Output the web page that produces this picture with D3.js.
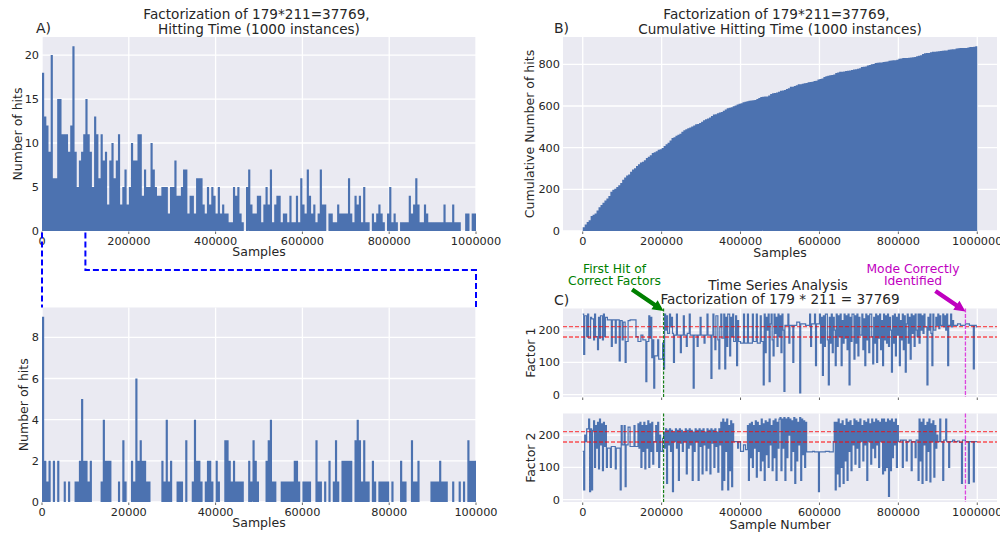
<!DOCTYPE html>
<html><head><meta charset="utf-8">
<script src="https://cdn.jsdelivr.net/npm/d3@7"></script>
<style>
body{margin:0;background:#fff}
svg{display:block}
text{font-family:"DejaVu Sans",sans-serif;fill:#262626}
</style>
</head><body>
<svg id="c" width="1000" height="536"></svg>
<script>
// ---------------- DATA ----------------
const hitBinWidth = 5000;           // samples per bin, panel A (top) and B
const hitCounts = [
 18,13,12,9,20,6,6,15,15,11,
 11,11,9,12,21,9,5,8,9,11,
 15,11,9,5,13,11,6,11,8,9,
 3,8,10,6,8,11,3,5,7,3,
 5,10,8,8,11,11,4,7,5,5,
 10,7,5,4,4,5,5,5,2,5,
 5,8,4,4,5,7,7,2,4,4,
 2,6,6,6,3,2,5,3,5,4,
 2,5,2,3,2,2,1,1,5,4,
 5,2,1,0,5,7,3,2,2,4,
 4,1,3,5,3,7,1,3,4,4,
 1,2,2,1,4,1,1,4,1,6,
 3,2,7,4,2,3,1,2,7,3,
 3,0,2,2,1,1,3,2,2,2,
 2,6,2,1,4,3,4,1,5,1,
 1,0,2,1,2,3,2,1,0,2,
 5,1,2,1,0,1,1,1,1,4,
 2,3,6,3,1,1,3,2,1,1,
 1,1,1,1,1,3,1,1,1,3,
 1,1,1,0,0,2,2,0,2,2
];
const zoomBinWidth = 500;           // samples per bin, panel A (bottom)
const zoomCounts = [
 9,2,1,2,0,2,0,2,0,0,
 1,0,1,0,0,1,1,2,5,2,
 2,1,2,0,0,0,0,1,4,2,
 2,2,0,0,0,1,0,3,1,0,
 0,2,1,6,2,3,2,2,1,1,
 0,0,0,0,0,2,1,4,1,2,
 0,0,1,1,1,0,3,0,0,1,
 4,2,2,1,0,1,2,2,1,0,
 2,1,0,0,3,3,2,1,2,1,
 1,1,1,0,0,2,1,3,2,1,
 0,0,0,2,3,4,1,1,0,0,
 1,1,1,1,1,1,2,2,1,0,
 1,1,1,1,0,0,3,1,1,0,
 1,0,2,0,1,3,1,0,2,2,
 2,2,2,0,3,4,3,1,3,1,
 1,0,2,1,0,1,1,1,1,1,
 0,1,0,0,0,2,1,1,0,0,
 3,1,1,2,0,0,0,0,0,1,
 1,1,1,2,1,1,1,0,0,1,
 0,0,1,0,1,0,3,2,2,2
];
// Time series as runs of the sampler's state: [value, duration in units of runUnit samples]
const runUnit = 2500;
const factor1Runs = [
 [250,1],[125,1],[245,2],[180,1],[250,1],[175,2],[240,1],[235,2],[170,1],[250,1],[180,2],[140,1],[240,1],[175,1],[245,2],[170,1],[250,1],[180,1],[240,2],
 [232,4],[150,1],[232,3],[160,1],[232,3],[105,1],
 [230,2],[170,1],[225,2],[100,1],[165,2],[230,2],[232,6],
 [180,2],[165,3],[185,2],[170,3],[40,1],
 [165,2],[245,1],[175,1],[240,1],[115,1],[170,1],[20,1],
 [120,3],[170,1],[110,4],[160,1],[80,1],
 [250,1],[200,1],[245,1],[190,2],[250,1],[210,1],[240,1],[190,1],
 [100,1],[185,2],[250,1],[185,3],[130,1],[185,2],[245,1],[185,2],[150,1],[190,2],[250,1],[185,3],[20,1],
 [185,3],[150,1],[185,2],[240,1],[185,3],[160,1],[185,2],[250,1],[185,3],[50,1],
 [185,1],[250,1],[180,1],[140,1],[245,2],[170,1],[80,1],[210,1],[250,1],[175,2],[250,1],[80,1],[240,1],[150,1],[250,2],[120,1],[240,1],[180,1],[250,1],[165,2],[245,1],[90,1],[230,1],[165,2],
 [160,3],[250,1],[160,3],[250,1],[160,4],[250,1],[165,3],[250,1],[160,3],[245,1],[165,2],[30,1],
 [250,1],[130,1],[240,1],[200,1],[250,1],[40,1],[220,1],[250,1],[170,1],[120,1],[250,1],[190,1],[240,1],[150,1],[250,1],[180,1],[245,1],[130,1],[250,1],[200,1],[10,1],
 [215,3],[250,1],[160,1],[215,3],[100,1],[215,3],[225,3],[5,1],
 [220,5],[215,4],[250,1],[150,1],[220,3],[250,1],[90,1],[220,3],
 [250,1],[160,1],[240,1],[60,1],[245,1],[150,1],[250,2],[170,1],[30,1],[240,1],[160,1],[250,1],[130,1],[240,1],[200,1],[90,1],[250,1],[150,1],[245,1],[180,1],[250,1],[90,1],[230,1],[160,1],[250,1],[175,1],[245,1],[140,1],[250,1],[30,1],[240,1],[165,1],[250,2],[110,1],
 [245,1],[160,1],[250,1],[120,1],[240,1],[185,2],[250,1],[140,1],[235,1],[90,1],[250,1],[170,1],[245,1],[130,1],[250,2],[180,1],[95,1],[240,1],[160,1],[250,1],[100,1],[245,1],[175,1],[250,1],[140,1],[230,1],[90,1],[250,1],[170,1],[245,1],[160,1],
 [250,1],[150,1],[240,1],[200,1],[70,1],[245,1],[160,1],[250,1],[120,1],[240,1],[185,1],[250,1],[90,1],[230,1],[170,1],[250,1],[140,1],[245,1],[70,1],[220,1],[250,1],[160,1],[240,1],[110,1],[250,1],[190,1],[245,1],[150,1],[250,1],[200,1],[180,1],[250,1],[160,1],
 [250,1],[200,1],[245,1],[190,1],[250,1],[210,2],[30,1],[240,1],[200,1],[250,1],[190,1],[90,1],[250,1],[200,2],[240,1],[215,1],[250,1],[205,1],[245,1],
 [215,2],[250,1],[210,1],[245,1],[200,1],[250,1],[90,1],[215,2],[250,1],[210,1],[230,1],
 [215,4],[220,3],[215,5],[220,4],[215,4],[80,1],[215,2],[210,1]
];
const factor2Runs = [
 [150,1],[30,1],[200,1],[180,1],
 [220,2],[250,1],[25,1],[220,1],[30,1],[215,1],
 [245,1],[100,1],[230,1],[160,1],[240,1],[95,1],[250,1],[170,1],[235,1],[90,1],[240,1],[165,1],[230,1],[100,1],
 [160,3],[100,1],[165,4],[95,1],[160,4],[30,1],
 [230,1],[170,2],[230,1],[40,1],[170,2],[225,2],
 [165,4],[230,1],[165,3],[235,1],[160,1],
 [240,1],[100,1],[230,1],[150,1],[240,1],[95,1],[230,1],[160,1],[245,1],[100,1],[235,1],[150,1],[240,1],[110,1],[180,2],[230,1],[150,1],[240,1],[100,1],[200,1],[150,1],
 [150,1],[190,1],
 [210,1],[160,1],[220,1],[50,1],[215,1],[170,1],[220,1],[150,1],[215,1],[25,1],[210,1],[180,1],[220,1],[160,1],[215,1],[60,1],[220,1],[175,1],[215,1],[150,1],[210,1],[180,1],[220,1],[80,1],[215,1],[160,1],[220,1],[170,1],[215,1],[60,1],[210,1],[150,1],[220,1],[180,1],[215,1],[60,1],[220,1],[165,1],
 [215,1],[80,1],[220,1],[170,1],[210,1],[90,1],[220,1],[160,1],[215,1],[80,1],[220,1],[175,1],[215,1],[100,1],[220,1],[165,1],[210,1],[85,1],[220,1],[170,1],
 [240,1],[30,1],[250,1],[60,1],[240,1],[150,1],[250,1],[30,1],[230,1],[90,1],[245,1],[40,1],[235,1],
 [180,4],[160,1],[180,2],
 [150,3],[170,2],[155,2],
 [230,1],[60,1],[235,1],[130,1],[240,1],[100,1],[230,1],[160,1],[245,1],[70,1],[240,1],[150,1],[230,1],[90,1],[250,1],[120,1],[235,1],[60,1],[245,1],[140,1],[240,1],[100,1],[250,1],[170,1],[230,1],[90,1],[245,1],[130,1],[250,1],[60,1],[240,1],[160,1],[250,1],
 [255,1],[90,1],[250,1],[160,1],[255,1],[60,1],[250,1],[130,1],[255,1],[200,1],[250,1],[90,1],[245,1],[150,1],[255,1],[50,1],[250,1],[120,1],[240,1],[170,1],[255,1],[60,1],[250,1],[140,1],[245,1],[100,1],[240,1],
 [148,6],[150,2],[148,4],[25,1],[148,6],[150,4],[148,4],
 [180,1],[240,1],[30,1],[240,1],[80,1],[250,1],[40,1],[235,1],[100,1],[245,1],[50,1],[230,1],[120,1],[250,1],[60,1],[240,1],[150,1],[245,1],[90,1],[230,1],[170,1],
 [250,1],[110,1],[245,1],[160,1],[240,1],[100,1],[250,1],[180,1],[230,1],[120,1],[245,1],[170,1],[240,1],[60,1],[250,1],[180,1],[235,1],[110,1],[250,1],[160,1],[240,1],[130,1],[250,1],[170,1],[245,1],[100,1],[240,1],
 [180,1],[250,1],[80,1],[250,1],[90,1],[240,1],[100,1],[250,1],[10,1],[245,1],[90,1],[250,1],[130,1],[240,1],[170,1],[250,1],[100,1],[230,1],
 [180,2],[185,2],[100,1],[185,3],[120,1],[180,2],[185,2],[90,1],[180,3],[130,1],[185,2],
 [60,1],[250,1],[120,1],[240,1],[50,1],[250,1],[170,1],[230,1],[60,1],[240,1],[150,1],[250,1],[55,1],[235,1],[180,1],[245,1],[70,1],[230,1],[160,1],[200,1],
 [180,2],[250,1],[180,2],[60,1],[185,2],[250,1],[180,2],[100,1],
 [180,3],[185,2],[180,3],[182,2],[178,2],[50,1],[185,3],[180,3],[50,1],[180,4],[55,1],[180,3]
];
const trueFactors = [179, 211];
const firstHitSample = 205000;
const modeSample = 970000;
const hitTicksX = [0, 200000, 400000, 600000, 800000, 1000000];
const hitTicksY = [0, 5, 10, 15, 20];
const zoomTicksX = [0, 20000, 40000, 60000, 80000, 100000];
const zoomTicksY = [0, 2, 4, 6, 8];
const cumTicksY = [0, 200, 400, 600, 800];
const factorTicksY = [0, 100, 200];

// ---------------- DRAWING ----------------
const svg = d3.select("#c");
const BAR = "#4C72B0", BG = "#EAEAF2";
const fmt = d3.format("d");
const TICK_FS = "11.3px", LAB_FS = "12.5px", TITLE_FS = "13.6px";

function frame(b, xs, ys, xTicks, yTicks, showXLabels, labelDy) {
  const g = svg.append("g");
  g.append("rect").attr("x", b.x0).attr("y", b.y0)
    .attr("width", b.x1 - b.x0).attr("height", b.y1 - b.y0).attr("fill", BG);
  g.selectAll(".gy").data(yTicks).join("line")
    .attr("x1", b.x0).attr("x2", b.x1)
    .attr("y1", d => ys(d)).attr("y2", d => ys(d))
    .attr("stroke", "#fff").attr("stroke-width", 1.3);
  g.selectAll(".gx").data(xTicks).join("line")
    .attr("y1", b.y0).attr("y2", b.y1)
    .attr("x1", d => xs(d)).attr("x2", d => xs(d))
    .attr("stroke", "#fff").attr("stroke-width", 1.3);
  g.selectAll(".tm").data(xTicks).join("line")
    .attr("x1", d => xs(d)).attr("x2", d => xs(d))
    .attr("y1", b.y1 + 0.5).attr("y2", b.y1 + 3)
    .attr("stroke", "#666").attr("stroke-width", 1);
  g.selectAll(".yl").data(yTicks).join("text")
    .attr("x", b.x0 - 3).attr("y", d => ys(d)).attr("dy", "0.36em")
    .attr("text-anchor", "end").style("font-size", TICK_FS).text(d => fmt(d));
  if (showXLabels) {
    g.selectAll(".xl").data(xTicks).join("text")
      .attr("x", d => xs(d)).attr("y", b.y1 + (labelDy || 14))
      .attr("text-anchor", "middle").style("font-size", TICK_FS).text(d => fmt(d));
  }
  return g;
}
function xLabel(b, txt, y) {
  svg.append("text").attr("x", (b.x0 + b.x1) / 2).attr("y", y)
    .attr("text-anchor", "middle").style("font-size", LAB_FS).text(txt);
}
function yLabel(b, txt, x) {
  const cy = (b.y0 + b.y1) / 2;
  svg.append("text").attr("transform", `translate(${x},${cy}) rotate(-90)`)
    .attr("text-anchor", "middle").style("font-size", LAB_FS).text(txt);
}
function title(cx, lines, y1, y2, dx1) {
  svg.append("text").attr("x", cx + (dx1 || 0)).attr("y", y1).attr("text-anchor", "middle")
    .style("font-size", TITLE_FS).text(lines[0]);
  svg.append("text").attr("x", cx).attr("y", y2).attr("text-anchor", "middle")
    .style("font-size", TITLE_FS).text(lines[1]);
}
function letter(x, y, t) {
  svg.append("text").attr("x", x).attr("y", y).style("font-size", "14px").text(t);
}
// all bars of a histogram as one path (no anti-aliasing seams between neighbours)
function bars(g, data, width, xs, ys) {
  const p = d3.path();
  data.forEach((d, i) => {
    if (d <= 0) return;
    const x0 = xs(i * width), x1 = xs((i + 1) * width);
    p.rect(x0, ys(d), x1 - x0, ys(0) - ys(d));
  });
  g.append("path").attr("d", p.toString()).attr("fill", BAR);
}

// ---- Panel A top
const bA = {x0: 42, x1: 476, y0: 37, y1: 231};
const xA = d3.scaleLinear().domain([0, hitCounts.length * hitBinWidth]).range([bA.x0, bA.x1]);
const yA = d3.scaleLinear().domain([0, d3.max(hitCounts) * 1.05]).range([bA.y1, bA.y0]);
const gA = frame(bA, xA, yA, hitTicksX, hitTicksY, true);
bars(gA, hitCounts, hitBinWidth, xA, yA);
xLabel(bA, "Samples", 256);
yLabel(bA, "Number of hits", 21.5);
title((bA.x0 + bA.x1) / 2, ["Factorization of 179*211=37769,", "Hitting Time (1000 instances)"], 19, 34.3, -2.5);
letter(36, 33.3, "A)");

// ---- Panel A bottom (zoom)
const bZ = {x0: 42, x1: 476, y0: 307.5, y1: 502};
const xZ = d3.scaleLinear().domain([0, zoomCounts.length * zoomBinWidth]).range([bZ.x0, bZ.x1]);
const yZ = d3.scaleLinear().domain([0, d3.max(zoomCounts) * 1.05]).range([bZ.y1, bZ.y0]);
const gZ = frame(bZ, xZ, yZ, zoomTicksX, zoomTicksY, true);
bars(gZ, zoomCounts, zoomBinWidth, xZ, yZ);
xLabel(bZ, "Samples", 527);
yLabel(bZ, "Number of hits", 28);

// connector
const zoomEnd = zoomCounts.length * zoomBinWidth;
svg.append("path")
  .attr("d", `M${xA(0)},${bA.y1 + 1.5}L${xZ(0)},${bZ.y0}`)
  .attr("stroke", "#0000ff").attr("stroke-width", 2).attr("stroke-dasharray", "6,3").attr("fill", "none");
svg.append("path")
  .attr("d", `M${xA(zoomEnd)},${bA.y1 + 1.5}L${xA(zoomEnd)},270L${xZ(zoomEnd)},270L${xZ(zoomEnd)},${bZ.y0}`)
  .attr("stroke", "#0000ff").attr("stroke-width", 2).attr("stroke-dasharray", "6,3").attr("fill", "none");

// ---- Panel B cumulative
const cum = Array.from(d3.cumsum(hitCounts));
const bB = {x0: 563, x1: 997, y0: 37, y1: 231};
const span = hitCounts.length * hitBinWidth;
const xB = d3.scaleLinear().domain([-0.05 * span, 1.05 * span]).range([bB.x0, bB.x1]);
const yB = d3.scaleLinear().domain([0, d3.max(cum) * 1.05]).range([bB.y1, bB.y0]);
const gB = frame(bB, xB, yB, hitTicksX, cumTicksY, true);
bars(gB, cum, hitBinWidth, xB, yB);
xLabel(bB, "Samples", 256.5);
yLabel(bB, "Cumulative Number of hits", 534);
title((bB.x0 + bB.x1) / 2, ["Factorization of 179*211=37769,", "Cumulative Hitting Time (1000 instances)"], 19, 34.3, -3.5);
letter(554, 33.3, "B)");

// ---- Panel C
function runsToPoints(runs) {
  const pts = [];
  let t = 0;
  runs.forEach(([v, n]) => {
    pts.push([t * runUnit, v]);
    t += n;
    pts.push([t * runUnit, v]);
  });
  return pts;
}
const series1 = runsToPoints(factor1Runs);
const series2 = runsToPoints(factor2Runs);
const xC = d3.scaleLinear().domain([-0.05 * 1000000, 1.05 * 1000000]).range([563, 997]);
const allVals = series1.concat(series2).map(d => d[1]);
const [vmin, vmax] = d3.extent(allVals);
const pad = (vmax - vmin) * 0.05;
const bC1 = {x0: 563, x1: 997, y0: 308.5, y1: 397};
const bC2 = {x0: 563, x1: 997, y0: 413.5, y1: 502};
const panels = [[bC1, series1, false, "Factor 1"], [bC2, series2, true, "Factor 2"]];
panels.forEach(([b, data, showX, lab], k) => {
  const ys = d3.scaleLinear().domain([vmin - pad, vmax + pad]).range([b.y1, b.y0]);
  const g = frame(b, xC, ys, hitTicksX, factorTicksY, showX, 13.5);
  const clipId = "clip" + k;
  svg.append("clipPath").attr("id", clipId).append("rect")
    .attr("x", b.x0).attr("y", b.y0).attr("width", b.x1 - b.x0).attr("height", b.y1 - b.y0);
  const line = d3.line().x(d => xC(d[0])).y(d => ys(d[1]));
  g.append("path").attr("d", line(data)).attr("fill", "none")
    .attr("stroke", BAR).attr("stroke-width", 1.2).attr("stroke-linejoin", "miter")
    .attr("clip-path", `url(#${clipId})`);
  g.append("line").attr("x1", b.x0).attr("x2", b.x1)
    .attr("y1", ys(trueFactors[1])).attr("y2", ys(trueFactors[1]))
    .attr("stroke", "#ff0000").attr("stroke-opacity", 0.65).attr("stroke-width", 1.3)
    .attr("stroke-dasharray", "4,2");
  g.append("line").attr("x1", b.x0).attr("x2", b.x1)
    .attr("y1", ys(trueFactors[0])).attr("y2", ys(trueFactors[0]))
    .attr("stroke", "#ff0000").attr("stroke-width", 1.2)
    .attr("stroke-dasharray", "4,2");
  g.append("line").attr("x1", xC(firstHitSample)).attr("x2", xC(firstHitSample))
    .attr("y1", b.y0).attr("y2", b.y1)
    .attr("stroke", "#0a7a0a").attr("stroke-width", 1.1).attr("stroke-dasharray", "3,1.5");
  g.append("line").attr("x1", xC(modeSample)).attr("x2", xC(modeSample))
    .attr("y1", b.y0).attr("y2", b.y1)
    .attr("stroke", "#dd44dd").attr("stroke-width", 1.3).attr("stroke-dasharray", "4,1.5");
  yLabel(b, lab, 535);
});
xLabel(bC2, "Sample Number", 528.5);
title(780, ["Time Series Analysis", "Factorization of 179 * 211 = 37769"], 290, 304.3, -2);
letter(554, 305, "C)");

// annotations with arrows
function arrow(tail, tip, color) {
  const dx = tip[0] - tail[0], dy = tip[1] - tail[1];
  const L = Math.hypot(dx, dy), ux = dx / L, uy = dy / L, px = -uy, py = ux;
  const hw = 5.5, sw = 2.2, hl = 11;
  const bx = tip[0] - ux * hl, by = tip[1] - uy * hl;
  const pts = [
    [tail[0] + px * sw, tail[1] + py * sw], [bx + px * sw, by + py * sw],
    [bx + px * hw, by + py * hw], tip,
    [bx - px * hw, by - py * hw], [bx - px * sw, by - py * sw],
    [tail[0] - px * sw, tail[1] - py * sw]];
  svg.append("polygon").attr("points", pts.map(p => p.join(",")).join(" ")).attr("fill", color);
}
const tip1 = [xC(firstHitSample), bC1.y0 + 2.5];
arrow([tip1[0] - 31.5, tip1[1] - 21.5], tip1, "#008000");
const tip2 = [xC(modeSample), bC1.y0 + 3];
arrow([tip2[0] - 30, tip2[1] - 20.5], tip2, "#bf00bf");
function note(x, lines, color) {
  svg.append("text").attr("x", x).attr("y", 272.5).attr("text-anchor", "middle")
    .style("font-size", "12.3px").style("fill", color).text(lines[0]);
  svg.append("text").attr("x", x).attr("y", 285.3).attr("text-anchor", "middle")
    .style("font-size", "12.3px").style("fill", color).text(lines[1]);
}
note(614.5, ["First Hit of", "Correct Factors"], "#008000");
note(913, ["Mode Correctly", "Identified"], "#bf00bf");
</script>
</body></html>
